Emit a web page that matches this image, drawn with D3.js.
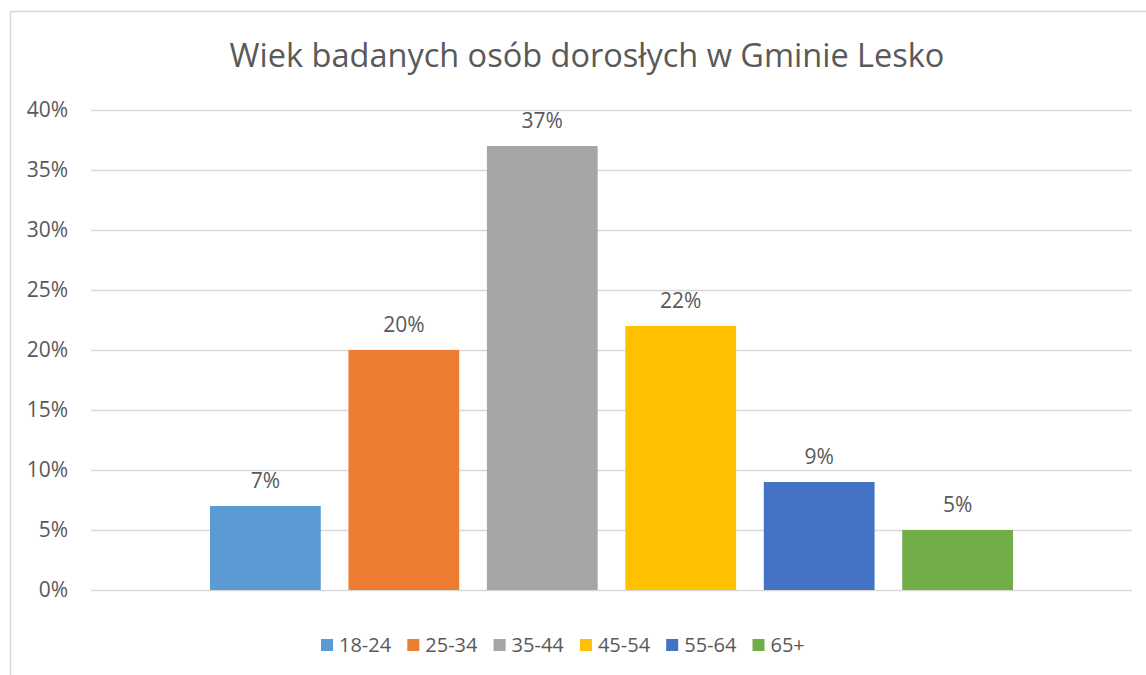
<!DOCTYPE html>
<html>
<head>
<meta charset="utf-8">
<script src="https://cdn.jsdelivr.net/npm/d3@7"></script>
<style>
  body { margin: 0; background: #fff; }
  text { font-family: "Open Sans", sans-serif; fill: #595959; }
</style>
</head>
<body>
<script>
var width = 1146,
    height = 675;

var title = 'Wiek badanych osób dorosłych w Gminie Lesko';
var groups = ['18-24', '25-34', '35-44', '45-54', '55-64', '65+'];
var values = [7, 20, 37, 22, 9, 5];
var colors = ['#5B9BD5', '#ED7D31', '#A5A5A5', '#FFC000', '#4472C4', '#70AD47'];
var yTicks = [0, 5, 10, 15, 20, 25, 30, 35, 40];

var svg = d3.select('body').append('svg')
    .attr('width', width)
    .attr('height', height);

// chart frame (right and bottom edges are cut off in the original)
svg.append('path')
    .attr('d', 'M10.5,' + height + 'V11.5H' + width)
    .attr('fill', 'none')
    .attr('stroke', '#D9D9D9')
    .attr('stroke-width', 1.5);

var y = d3.scaleLinear().domain([0, 40]).range([590, 110]);

var x = d3.scaleBand()
    .domain(groups)
    .range([210, 1013])
    .paddingInner(0.2)
    .paddingOuter(0);

// gridlines
svg.append('g')
    .selectAll('line')
    .data(yTicks)
    .enter().append('line')
    .attr('x1', 91)
    .attr('x2', 1132)
    .attr('y1', function (d) { return Math.round(y(d)) + 0.5; })
    .attr('y2', function (d) { return Math.round(y(d)) + 0.5; })
    .attr('stroke', '#D9D9D9')
    .attr('stroke-width', 1.5);

// y axis labels
svg.append('g')
    .selectAll('text')
    .data(yTicks)
    .enter().append('text')
    .attr('x', 68)
    .attr('y', function (d) { return y(d); })
    .attr('dy', '0.35em')
    .attr('text-anchor', 'end')
    .style('font-size', '21px')
    .text(function (d) { return d + '%'; });

// bars
svg.append('g')
    .selectAll('rect')
    .data(groups)
    .enter().append('rect')
    .attr('x', function (d) { return x(d); })
    .attr('y', function (d, i) { return y(values[i]); })
    .attr('width', x.bandwidth())
    .attr('height', function (d, i) { return y(0) - y(values[i]); })
    .attr('fill', function (d, i) { return colors[i]; });

// value labels
svg.append('g')
    .selectAll('text')
    .data(groups)
    .enter().append('text')
    .attr('x', function (d) { return x(d) + x.bandwidth() / 2; })
    .attr('y', function (d, i) { return y(values[i]) - 18; })
    .attr('text-anchor', 'middle')
    .style('font-size', '21px')
    .text(function (d, i) { return values[i] + '%'; });

// title
svg.append('text')
    .attr('x', 587)
    .attr('y', 67)
    .attr('text-anchor', 'middle')
    .style('font-size', '32.5px')
    .text(title);

// legend
var legendX = d3.scalePoint()
    .domain(groups)
    .range([321, 321 + 86.3 * 5]);

var item = svg.append('g')
    .selectAll('g')
    .data(groups)
    .enter().append('g')
    .attr('transform', function (d) { return 'translate(' + legendX(d) + ',639)'; });

item.append('rect')
    .attr('width', 12)
    .attr('height', 12)
    .attr('fill', function (d, i) { return colors[i]; });

item.append('text')
    .attr('x', 18)
    .attr('y', 6)
    .attr('dy', '0.35em')
    .style('font-size', '20px')
    .text(function (d) { return d; });
</script>
</body>
</html>
